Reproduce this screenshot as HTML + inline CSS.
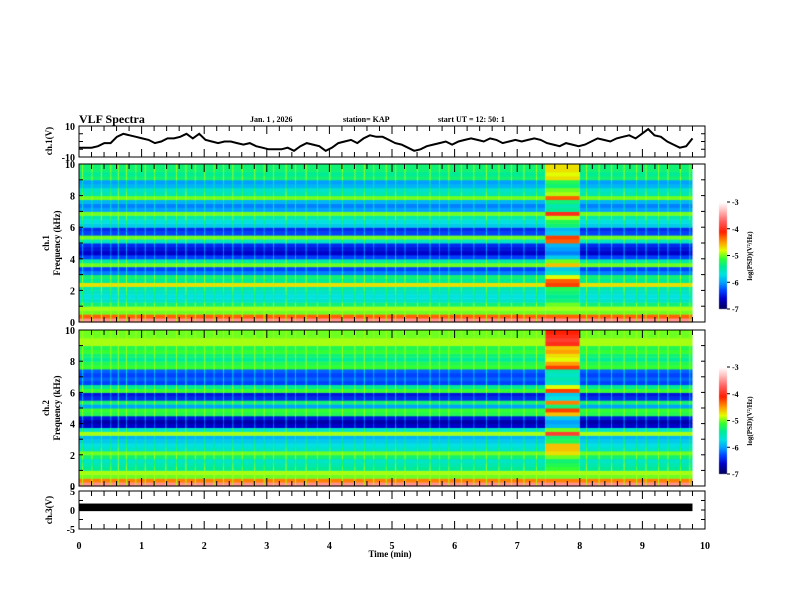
<!DOCTYPE html>
<html><head><meta charset="utf-8"><style>
body{margin:0;background:#fff;width:792px;height:612px;overflow:hidden;position:relative;font-family:"Liberation Serif",serif}
canvas{position:absolute;left:0;top:0}
svg{position:absolute;left:0;top:0}
text{font-family:"Liberation Serif",serif;font-weight:bold;fill:#000}
</style></head><body>
<canvas id="cv" width="792" height="612"></canvas>
<svg id="sv" width="792" height="612">
<text x="79" y="123" font-size="12">VLF Spectra</text>
<text x="250" y="122" font-size="8">Jan. 1 , 2026</text>
<text x="343" y="122" font-size="8">station= KAP</text>
<text x="438" y="122" font-size="8">start UT =  12: 50: 1</text>
<text x="390" y="557" font-size="9" text-anchor="middle">Time (min)</text>
</svg>
<script>
// ---- data ----
const times = [0,1,2,3,4,5,6,7,8,9,10];
const ch1Wave = [-4,-4,-4,-3,-1,-1,3,5,4,3,2,1,-1,0,2,2,3,5,2,5,1,0,-1,0,0,-1,-2,-1,-3,-4,-5,-5,-5,-4,-6,-3,-1,-2,-3,-6,-4,-1,0,1,-1,2,4,3,3,1,-1,-2,-4,-6,-5,-3,-2,-1,0,-2,0,1,2,1,0,2,1,-1,0,1,0,1,2,1,-1,-2,-3,-1,-2,-3,-2,0,2,1,0,2,3,4,2,5,8,4,3,0,-2,-4,-3,2];
const ch3Level = 0.7;
const ch3Half = 1.0;
const ch1Profile = [-3.5,-4.3,-5.0,-4.9,-5.3,-5.6,-5.7,-5.6,-5.5,-4.7,-5.4,-5.3,-6.1,-6.3,-5.0,-5.5,-6.3,-6.6,-6.5,-6.4,-5.6,-5.0,-6.3,-6.4,-5.8,-5.7,-5.5,-5.0,-6.0,-6.1,-5.9,-5.0,-5.5,-5.6,-5.9,-6.0,-5.3,-5.4,-5.3,-5.3];
const ch2Profile = [-3.5,-4.4,-5.0,-4.9,-5.4,-5.5,-5.6,-5.3,-5.0,-5.6,-5.7,-5.8,-5.9,-4.9,-5.6,-6.6,-6.7,-6.5,-5.2,-5.1,-6.0,-5.3,-6.4,-6.5,-5.1,-5.4,-6.3,-6.2,-6.3,-6.2,-5.1,-5.2,-5.4,-5.3,-5.1,-5.2,-4.9,-4.9,-5.0,-5.0];
const ch1Anom = [0,0,0,0,0.3,0.3,0.3,0.3,0.3,0.5,1.1,0.5,0.5,0.5,0.4,0.5,0.5,0.5,0.5,0.5,1.3,0.8,0.5,0.5,0.5,0.5,0.6,1.0,0.6,0.6,0.6,0.7,0.6,0.6,0.6,0.8,0.6,0.6,0.6,0.6];
const ch2Anom = [0,0,0,0,0.3,0.3,0.3,0.3,0.3,1.0,1.1,0.6,0.6,1.0,0.6,0.7,0.7,0.7,0.6,0.9,0.7,0.9,0.7,0.7,0.9,0.6,0.7,0.7,0.7,0.7,0.9,0.7,0.6,0.6,0.6,0.6,0.9,1.0,1.0,0.9];
const anomStart = 7.45, anomEnd = 8.0, dataEnd = 9.8;
const eventTimes = [0.05,0.2,0.35,0.5,0.62,0.75,0.9,1.05,1.2,1.38,1.55,1.7,1.85,2.0,2.15,2.3,2.45,2.6,2.8,2.95,3.1,3.3,3.45,3.62,3.8,4.0,4.2,4.4,4.55,4.7,4.9,5.05,5.2,5.4,5.6,5.75,5.9,6.1,6.3,6.5,6.7,6.9,7.1,7.3,8.1,8.3,8.5,8.7,8.9,9.05,9.25,9.4,9.6,9.75];
const eventStrength = [0.5,0.4,0.6,0.45,0.65,0.55,0.35,0.5,0.4,0.55,0.45,0.6,0.4,0.5,0.35,0.45,0.55,0.4,0.5,0.35,0.45,0.6,0.4,0.5,0.35,0.55,0.4,0.45,0.5,0.35,0.4,0.55,0.45,0.4,0.5,0.35,0.45,0.5,0.4,0.55,0.45,0.4,0.5,0.45,0.55,0.45,0.5,0.6,0.4,0.55,0.45,0.5,0.4,0.55];
const cbTicks = [-3,-4,-5,-6,-7];

// ---- layout ----
const X0=79, X1=705;
const P1={t:126,b:157}, P2={t:164,b:322}, P3={t:330,b:486}, P4={t:491,b:529};
const xs = t => X0 + (t/10)*(X1-X0);
const cv=document.getElementById('cv'), ctx=cv.getContext('2d');
const sv=document.getElementById('sv'), NS='http://www.w3.org/2000/svg';
function el(tag,attrs,parent){const e=document.createElementNS(NS,tag);for(const k in attrs)e.setAttribute(k,attrs[k]);(parent||sv).appendChild(e);return e;}

const stops=[[-7,[0,0,80]],[-6.6,[0,0,200]],[-6.3,[0,64,255]],[-6.0,[0,160,255]],[-5.7,[0,225,225]],[-5.4,[0,235,150]],[-5.1,[50,255,50]],[-4.8,[225,255,0]],[-4.5,[255,160,0]],[-4.1,[255,30,0]],[-3.7,[255,96,96]],[-3.3,[255,192,192]],[-3,[255,255,255]]];
function cmap(v){v=Math.max(-7,Math.min(-3,v));for(let i=1;i<stops.length;i++){if(v<=stops[i][0]){const a=stops[i-1],b=stops[i],f=(v-a[0])/(b[0]-a[0]);return 'rgb('+a[1].map((c,j)=>Math.round(c+(b[1][j]-c)*f)).join(',')+')';}}return '#fff';}

function drawSpec(P,prof,anom){
  const nb=prof.length;
  const ys=f=>P.b-(f/10)*(P.b-P.t);
  prof.forEach((v,i)=>{
    const y0=ys((i+1)*10/nb), y1=ys(i*10/nb);
    ctx.fillStyle=cmap(v); ctx.fillRect(xs(0),y0,xs(anomStart)-xs(0),y1-y0+0.5);
    ctx.fillStyle=cmap(v+anom[i]); ctx.fillRect(xs(anomStart),y0,xs(anomEnd)-xs(anomStart),y1-y0+0.5);
    ctx.fillStyle=cmap(v); ctx.fillRect(xs(anomEnd),y0,xs(dataEnd)-xs(anomEnd),y1-y0+0.5);
    eventTimes.forEach((t,k)=>{
      ctx.fillStyle=cmap(Math.min(v+eventStrength[k],-4.9));
      ctx.fillRect(xs(t),y0,1,y1-y0+0.5);
    });
  });
}
drawSpec(P2,ch1Profile,ch1Anom);
drawSpec(P3,ch2Profile,ch2Anom);

// ch1 waveform
const y1s=v=>P1.b-((v+10)/20)*(P1.b-P1.t);
let d='';
ch1Wave.forEach((v,i)=>{d+=(i?'L':'M')+xs(i*dataEnd/(ch1Wave.length-1)).toFixed(1)+' '+y1s(v).toFixed(1);});
const wl=el('path',{d:d,fill:'none',stroke:'#000','stroke-width':2});


// ch3 band
const y4s=v=>P4.b-((v+5)/10)*(P4.b-P4.t);
const band=el('rect',{x:xs(0),y:y4s(ch3Level+ch3Half),width:xs(dataEnd)-xs(0),height:y4s(ch3Level-ch3Half)-y4s(ch3Level+ch3Half),fill:'#000'});



// frames and ticks
function frame(P,name,ylabs,ylabVals,yfn,minorVals){
  const r=el('rect',{x:X0,y:P.t,width:X1-X0,height:P.b-P.t,fill:'none',stroke:'#000','stroke-width':1});
  
  
  for(let k=0;k<=50;k++){const t=k*0.2,L=(k%5===0)?8:5,x=xs(t);
    el('line',{x1:x,y1:P.t,x2:x,y2:P.t+L,stroke:'#000'});el('line',{x1:x,y1:P.b,x2:x,y2:P.b-L,stroke:'#000'});}
  minorVals.forEach(v=>{const y=yfn(v);el('line',{x1:X0,y1:y,x2:X0+4,y2:y,stroke:'#000'});el('line',{x1:X1,y1:y,x2:X1-4,y2:y,stroke:'#000'});});
  ylabVals.forEach((v,i)=>{const tx=el('text',{x:X0-4,y:yfn(v)+4,'font-size':10,'text-anchor':'end'});tx.textContent=ylabs[i];
    
    });
}
frame(P1,'ch1-panel',['10','-10'],[10,-10],y1s,[-5,0,5]);
const y2s=v=>P2.b-(v/10)*(P2.b-P2.t), y3s=v=>P3.b-(v/10)*(P3.b-P3.t);
frame(P2,'ch1-spectrogram-panel',['10','8','6','4','2','0'],[10,8,6,4,2,0],y2s,[1,2,3,4,5,6,7,8,9]);
frame(P3,'ch2-spectrogram-panel',['10','8','6','4','2','0'],[10,8,6,4,2,0],y3s,[1,2,3,4,5,6,7,8,9]);
frame(P4,'ch3-panel',['5','0','-5'],[5,0,-5],y4s,[-2.5,0,2.5]);
times.forEach(t=>{const tx=el('text',{x:xs(t),y:P4.b+20,'font-size':10,'text-anchor':'middle'});tx.textContent=t;
  
  });

// y titles
function ytitle(x,y,lines,name){const g=el('g',{transform:'translate('+x+','+y+') rotate(-90)'});
  
  
  lines.forEach((s,i)=>{const t=el('text',{x:0,y:i*11,'font-size':9,'text-anchor':'middle'},g);t.textContent=s;});}
ytitle(52,141,['ch.1(V)'],'ch1-y-title');
ytitle(49,243,['ch.1','Frequency (kHz)'],'ch1-freq-y-title');
ytitle(49,408,['ch.2','Frequency (kHz)'],'ch2-freq-y-title');
ytitle(52,510,['ch.3(V)'],'ch3-y-title');

// colorbars
function colorbar(top,name){
  const bt=top, bb=top+107, x=719, w=8;
  for(let y=bt;y<bb;y++){ctx.fillStyle=cmap(-3-4*(y-bt)/(bb-bt));ctx.fillRect(x,y,w,1);}
  const r=el('rect',{x:x,y:bt,width:w,height:bb-bt,fill:'none',stroke:'none'});
  
  
  cbTicks.forEach(v=>{const y=bt+(-3-v)/4*(bb-bt);el('line',{x1:x+w,y1:y,x2:x+w+3,y2:y,stroke:'#000'});
    const t=el('text',{x:x+w+5,y:y+3,'font-size':8});t.textContent=v;});
  const g=el('g',{transform:'translate(752,'+(bt+54)+') rotate(-90)'});
  const t=el('text',{x:0,y:0,'font-size':7,'text-anchor':'middle'},g);t.textContent='log(PSD)(V²/Hz)';
}
colorbar(202,'ch1-colorbar');
colorbar(367,'ch2-colorbar');
</script>
</body></html>
